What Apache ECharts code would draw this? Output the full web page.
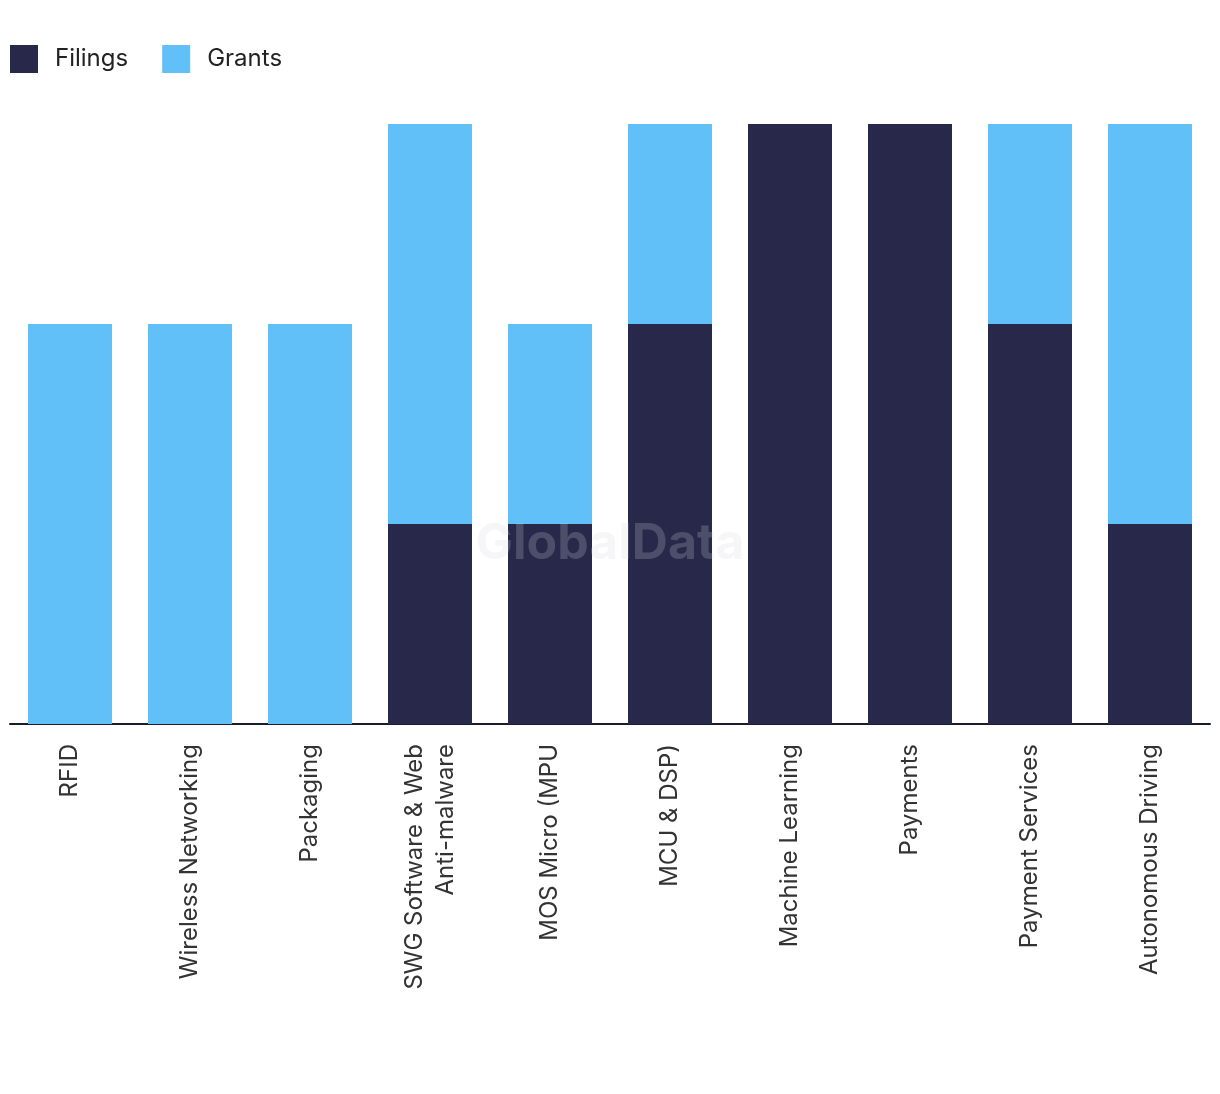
<!DOCTYPE html>
<html>
<head>
<meta charset="utf-8">
<script src="https://cdn.jsdelivr.net/npm/echarts@6/dist/echarts.min.js"></script>
<style>
html,body{margin:0;padding:0;background:#fff;}
#chart{width:1220px;height:1094px;}
</style>
</head>
<body>
<div id="chart"></div>
<script>
const categories = ["RFID", "Wireless Networking", "Packaging", "SWG Software & Web\nAnti-malware", "MOS Micro (MPU", "MCU & DSP)", "Machine Learning", "Payments", "Payment Services", "Autonomous Driving"];
const filings = [0, 0, 0, 1, 1, 2, 3, 3, 2, 1];
const grants = [2, 2, 2, 2, 1, 1, 0, 0, 1, 2];
const seriesNames = ["Filings", "Grants"];

const chart = echarts.init(document.getElementById('chart'));
chart.setOption({
  animation: false,
  backgroundColor: '#ffffff',
  color: ['#27284a', '#62c0f8'],
  legend: {
    left: 10,
    top: 45,
    padding: 0,
    itemWidth: 28,
    itemHeight: 28,
    itemGap: 34,
    icon: 'rect',
    textStyle: { fontFamily: 'Inter', fontSize: 24, color: '#222222', padding: [0, 0, 0, 12] },
    data: seriesNames
  },
  graphic: [{
    type: 'text',
    left: 'center',
    top: 519,
    z: 100,
    style: {
      text: 'GlobalData',
      fontFamily: 'Inter',
      fontWeight: 'bold',
      fontSize: 50,
      fill: 'rgba(215,215,225,0.22)'
    }
  }],
  grid: { left: 10, right: 10, top: 124, bottom: 370, containLabel: false },
  xAxis: {
    type: 'category',
    data: categories,
    axisLine: { show: true, lineStyle: { color: '#1a1b2e', width: 2 } },
    axisTick: { show: false },
    axisLabel: {
      rotate: 90,
      interval: 0,
      margin: 20,
      fontFamily: 'Inter',
      fontSize: 24,
      color: '#333333',
      lineHeight: 31
    }
  },
  yAxis: {
    type: 'value',
    min: 0,
    max: 3,
    interval: 1,
    show: false,
    splitLine: { show: false }
  },
  series: [
    { name: seriesNames[0], type: 'bar', stack: 'total', data: filings, barWidth: 84 },
    { name: seriesNames[1], type: 'bar', stack: 'total', data: grants, barWidth: 84 }
  ]
});
</script>
</body>
</html>
